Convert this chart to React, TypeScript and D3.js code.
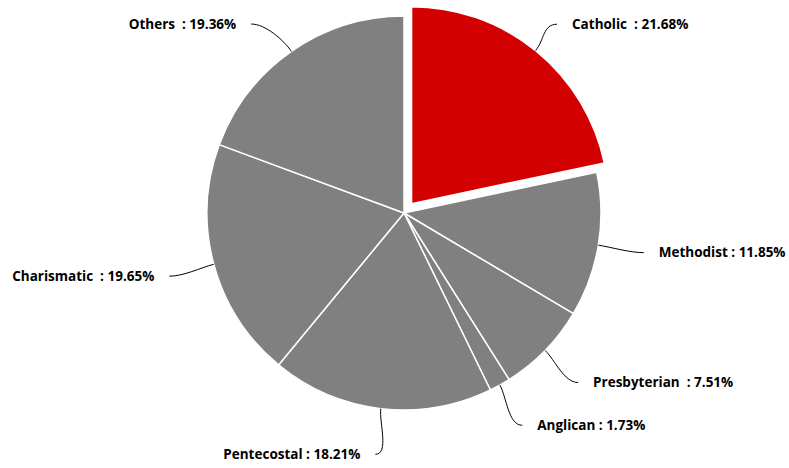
import React from "react";
import * as d3 from "d3";

const categories = ["Catholic ", "Methodist", "Presbyterian ", "Anglican", "Pentecostal", "Charismatic ", "Others "];
const values = [21.68, 11.85, 7.51, 1.73, 18.21, 19.65, 19.36];
const sliced = [true, false, false, false, false, false, false];
const colors = ["#d20000", "#808080", "#808080", "#808080", "#808080", "#808080", "#808080"];

const W = 789;
const H = 468;
const cx = 404;
const cy = 213;
const r = 197;
const labelR = 243;
const slicedOffset = 12;

export default function App() {
  const pie = d3.pie<number>().sort(null).value((d) => d);
  const arcs = pie(values);
  const arc = d3.arc<d3.PieArcDatum<number>>().innerRadius(0).outerRadius(r);

  return (
    <svg width={W} height={H} style={{ position: "absolute", left: 0, top: 0 }} xmlns="http://www.w3.org/2000/svg">
      <rect width={W} height={H} fill="#ffffff" />
      {arcs.map((a, i) => {
        const mid = (a.startAngle + a.endAngle) / 2;
        const ux = Math.sin(mid);
        const uy = -Math.cos(mid);
        const off = sliced[i] ? slicedOffset : 0;
        const ox = cx + ux * off;
        const oy = cy + uy * off;
        return (
          <path
            key={"s" + i}
            d={arc(a) || ""}
            transform={`translate(${ox},${oy})`}
            fill={colors[i]}
            stroke="#ffffff"
            strokeWidth={1.5}
            strokeLinejoin="round"
          />
        );
      })}
      {arcs.map((a, i) => {
        const mid = (a.startAngle + a.endAngle) / 2;
        const ux = Math.sin(mid);
        const uy = -Math.cos(mid);
        const off = sliced[i] ? slicedOffset : 0;
        const sx = cx + ux * (r + off);
        const sy = cy + uy * (r + off);
        const ay = Math.max(24, cy + uy * labelR);
        const sign = ux >= 0 ? 1 : -1;
        const dyc = ay - cy;
        const ax = cx + sign * Math.sqrt(Math.max(0, labelR * labelR - dyc * dyc));
        const c1x = cx + ux * (r + off + 14);
        const c1y = cy + uy * (r + off + 14);
        const c2x = ax - sign * 14;
        const c2y = ay;
        const path = `M${sx},${sy} C${c1x},${c1y} ${c2x},${c2y} ${ax},${ay}`;
        const label = `${categories[i]} : ${values[i].toFixed(2)}%`;
        return (
          <g key={"l" + i}>
            <path d={path} fill="none" stroke="#000000" strokeWidth={1} />
            <text
              x={ax + sign * 15}
              y={ay}
              dy="0.35em"
              textAnchor={sign > 0 ? "start" : "end"}
              fontFamily="'Open Sans', sans-serif"
              fontWeight={700}
              fontSize={13.5}
              fill="#000000"
              style={{ whiteSpace: "pre" }}
            >
              {label}
            </text>
          </g>
        );
      })}
    </svg>
  );
}
